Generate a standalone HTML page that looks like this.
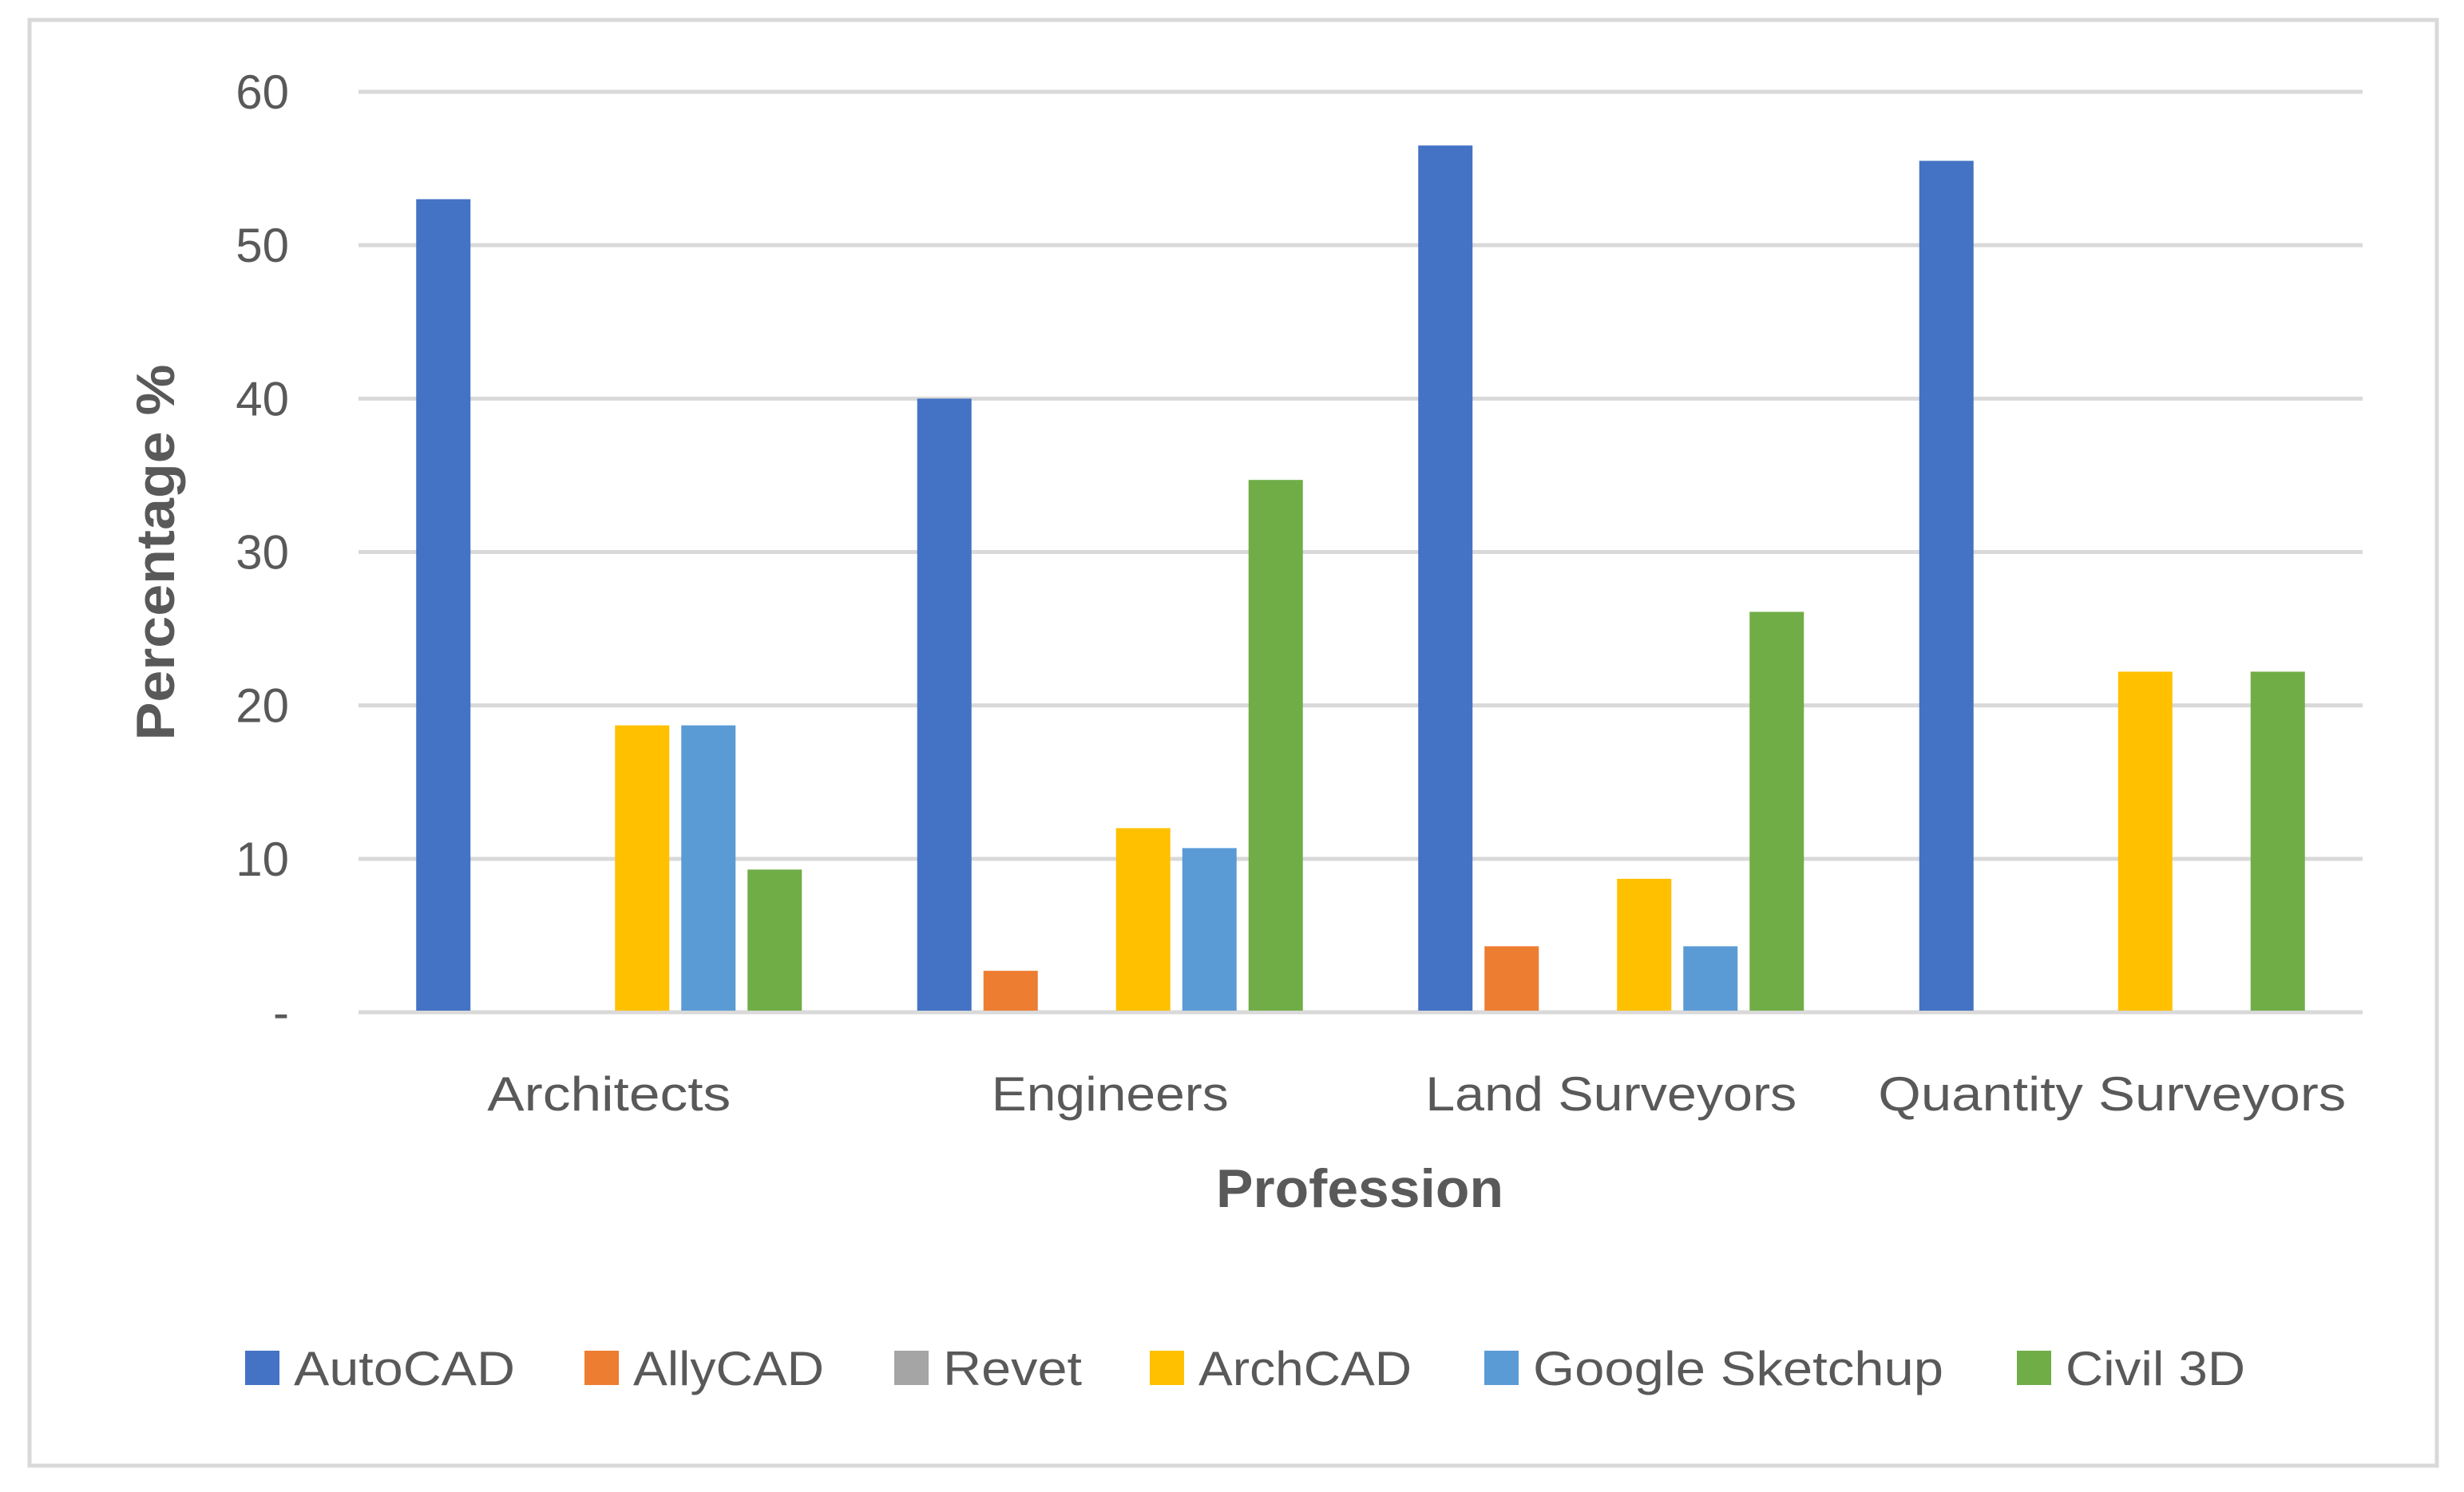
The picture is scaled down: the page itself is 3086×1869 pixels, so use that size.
<!DOCTYPE html>
<html><head><meta charset="utf-8"><style>
html,body{margin:0;padding:0;background:#fff;}
svg{display:block;font-family:"Liberation Sans",sans-serif;}
</style></head><body>
<svg id="chart" width="3086" height="1869" viewBox="0 0 3086 1869">
<rect x="37" y="25" width="3015" height="1811" fill="#fff" stroke="#d9d9d9" stroke-width="5"/>
<g id="grid"></g><g id="bars"></g><g id="labels"></g><g id="legend"></g>
<text x="1703" y="1512" text-anchor="middle" font-size="68" font-weight="bold" fill="#595959" textLength="360" lengthAdjust="spacingAndGlyphs">Profession</text>
<text transform="translate(218,692) rotate(-90)" text-anchor="middle" font-size="68" font-weight="bold" fill="#595959" textLength="471" lengthAdjust="spacingAndGlyphs">Percentage %</text>
</svg>
<script>
const categories = ["Architects","Engineers","Land Surveyors","Quantity Surveyors"];
const seriesNames = ["AutoCAD","AllyCAD","Revet","ArchCAD","Google Sketchup","Civil 3D"];
const autocad = [53, 40, 56.5, 55.5];
const allycad = [0, 2.7, 4.3, 0];
const revet = [0, 0, 0, 0];
const archcad = [18.7, 12, 8.7, 22.2];
const sketchup = [18.7, 10.7, 4.3, 0];
const civil3d = [9.3, 34.7, 26.1, 22.2];
const yTicks = [0,10,20,30,40,50,60];
const yTickLabels = ["-","10","20","30","40","50","60"];

const series = [autocad, allycad, revet, archcad, sketchup, civil3d];
const colors = ["#4472c4","#ed7d31","#a5a5a5","#ffc000","#5b9bd5","#70ad47"];
const catWidths = [305,297,465,586];
const legWidths = [277,239,174,267,514,225];
const legSq = [307,732,1120,1440,1859,2526];
const NS="http://www.w3.org/2000/svg";
const X0=449, X1=2959, Y0=1268, Ytop=115, YMAX=60;
const y = v => Y0 - (v/YMAX)*(Y0-Ytop);
const gw = (X1-X0)/categories.length;
const bw = 68, step = 83, pad = (gw - step*series.length + (step-bw))/2;
const xBar = (c,s) => X0 + c*gw + pad + s*step;
function mk(tag, attrs, parent){const e=document.createElementNS(NS,tag);for(const k in attrs)e.setAttribute(k,attrs[k]);parent.appendChild(e);return e;}
const grid=document.getElementById('grid'), bars=document.getElementById('bars'), labels=document.getElementById('labels'), legend=document.getElementById('legend');
yTicks.forEach((t,i)=>{
  const l=mk('line',{x1:X0,x2:X1,y1:y(t),y2:y(t),stroke:'#d9d9d9','stroke-width':5},grid);
  
  
  const tx=mk('text',{x:362,y:y(t)+21,'text-anchor':'end','font-size':60,fill:'#595959'},labels);
  tx.textContent=yTickLabels[i];
  
  
});
series.forEach((vals,s)=>{
  vals.forEach((v,c)=>{
    if(v<=0) return;
    const r=mk('rect',{x:xBar(c,s),y:y(v),width:bw,height:Y0-y(v)-2,fill:colors[s]},bars);
    
    
  });
});
categories.forEach((c,i)=>{
  const t=mk('text',{x:X0+gw*(i+0.5),y:1391,'text-anchor':'middle','font-size':60,fill:'#595959',textLength:catWidths[i],lengthAdjust:'spacingAndGlyphs'},labels);
  t.textContent=c;
  
  
});
seriesNames.forEach((n,i)=>{
  const r=mk('rect',{x:legSq[i],y:1692,width:43,height:43,fill:colors[i]},legend);
  
  
  const t=mk('text',{x:legSq[i]+61,y:1735,'font-size':60,fill:'#595959',textLength:legWidths[i],lengthAdjust:'spacingAndGlyphs'},legend);
  t.textContent=n;
  
  
});
</script>
</body></html>
